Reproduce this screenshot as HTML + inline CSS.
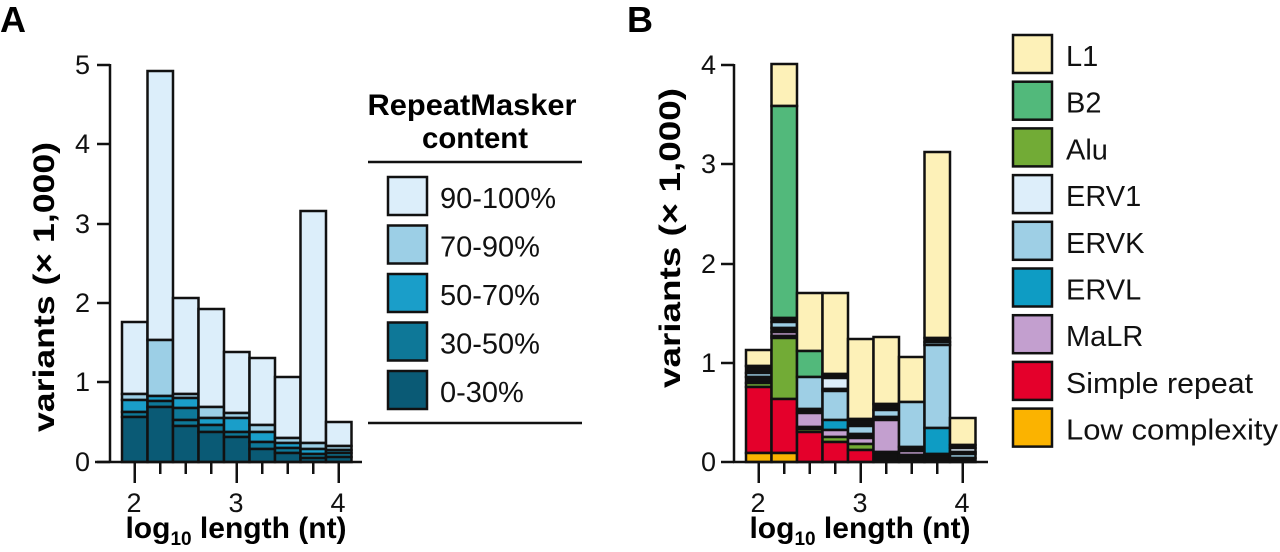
<!DOCTYPE html>
<html><head><meta charset="utf-8"><style>
html,body{margin:0;padding:0;background:#fff;}
svg{display:block;font-family:"Liberation Sans",sans-serif;}
.s rect{stroke:#111;stroke-width:2.5;}
</style></head><body>
<svg width="1280" height="552" viewBox="0 0 1280 552" xmlns="http://www.w3.org/2000/svg">
<text x="0" y="32" font-size="36" font-weight="bold">A</text>
<text x="627" y="32" font-size="36" font-weight="bold">B</text>

<!-- Panel A bars -->
<g class="s">
<rect x="122" y="322" width="25.5" height="72" fill="#dceefa"/><rect x="122" y="394" width="25.5" height="6" fill="#9ccfe6"/><rect x="122" y="400" width="25.5" height="12" fill="#1a9ec9"/><rect x="122" y="412" width="25.5" height="5" fill="#0e7898"/><rect x="122" y="417" width="25.5" height="45" fill="#0a5a75"/>
<rect x="147.5" y="71" width="25.5" height="269" fill="#dceefa"/><rect x="147.5" y="340" width="25.5" height="56" fill="#9ccfe6"/><rect x="147.5" y="396" width="25.5" height="5" fill="#1a9ec9"/><rect x="147.5" y="401" width="25.5" height="6" fill="#0e7898"/><rect x="147.5" y="407" width="25.5" height="55" fill="#0a5a75"/>
<rect x="173" y="298" width="25.5" height="96" fill="#dceefa"/><rect x="173" y="394" width="25.5" height="4" fill="#9ccfe6"/><rect x="173" y="398" width="25.5" height="10" fill="#1a9ec9"/><rect x="173" y="408" width="25.5" height="12" fill="#0e7898"/><rect x="173" y="420" width="25.5" height="6" fill="#0e7898"/><rect x="173" y="426" width="25.5" height="36" fill="#0a5a75"/>
<rect x="198.5" y="309" width="25.5" height="98" fill="#dceefa"/><rect x="198.5" y="407" width="25.5" height="11" fill="#9ccfe6"/><rect x="198.5" y="418" width="25.5" height="7" fill="#1a9ec9"/><rect x="198.5" y="425" width="25.5" height="7" fill="#0e7898"/><rect x="198.5" y="432" width="25.5" height="30" fill="#0a5a75"/>
<rect x="224" y="352" width="25.5" height="61" fill="#dceefa"/><rect x="224" y="413" width="25.5" height="5" fill="#9ccfe6"/><rect x="224" y="418" width="25.5" height="14" fill="#1a9ec9"/><rect x="224" y="432" width="25.5" height="5" fill="#0e7898"/><rect x="224" y="437" width="25.5" height="25" fill="#0a5a75"/>
<rect x="249.5" y="358" width="25.5" height="67" fill="#dceefa"/><rect x="249.5" y="425" width="25.5" height="7" fill="#9ccfe6"/><rect x="249.5" y="432" width="25.5" height="10" fill="#1a9ec9"/><rect x="249.5" y="442" width="25.5" height="7" fill="#0e7898"/><rect x="249.5" y="449" width="25.5" height="13" fill="#0a5a75"/>
<rect x="275" y="377" width="25.5" height="61" fill="#dceefa"/><rect x="275" y="438" width="25.5" height="5" fill="#9ccfe6"/><rect x="275" y="443" width="25.5" height="5" fill="#1a9ec9"/><rect x="275" y="448" width="25.5" height="5" fill="#0e7898"/><rect x="275" y="453" width="25.5" height="9" fill="#0a5a75"/>
<rect x="300.5" y="211" width="25.5" height="232" fill="#dceefa"/><rect x="300.5" y="443" width="25.5" height="6" fill="#9ccfe6"/><rect x="300.5" y="449" width="25.5" height="5" fill="#1a9ec9"/><rect x="300.5" y="454" width="25.5" height="4" fill="#0e7898"/><rect x="300.5" y="458" width="25.5" height="4" fill="#0a5a75"/>
<rect x="326" y="422" width="25.5" height="24" fill="#dceefa"/><rect x="326" y="446" width="25.5" height="4" fill="#9ccfe6"/><rect x="326" y="450" width="25.5" height="3" fill="#1a9ec9"/><rect x="326" y="453" width="25.5" height="4" fill="#0e7898"/><rect x="326" y="457" width="25.5" height="5" fill="#0a5a75"/>
</g>
<!-- Panel A axes -->
<g stroke="#111" stroke-width="2.5">
<line x1="110" y1="64" x2="110" y2="463"/>
<line x1="95" y1="462" x2="362" y2="462"/>
<line x1="97" y1="65" x2="110" y2="65"/><line x1="97" y1="144" x2="110" y2="144"/><line x1="97" y1="224" x2="110" y2="224"/><line x1="97" y1="303" x2="110" y2="303"/><line x1="97" y1="382" x2="110" y2="382"/><line x1="97" y1="462" x2="110" y2="462"/>
<line x1="134.75" y1="462" x2="134.75" y2="483"/><line x1="160.25" y1="462" x2="160.25" y2="474"/><line x1="185.75" y1="462" x2="185.75" y2="474"/><line x1="211.25" y1="462" x2="211.25" y2="474"/><line x1="236.75" y1="462" x2="236.75" y2="483"/><line x1="262.25" y1="462" x2="262.25" y2="474"/><line x1="287.75" y1="462" x2="287.75" y2="474"/><line x1="313.25" y1="462" x2="313.25" y2="474"/><line x1="338.75" y1="462" x2="338.75" y2="483"/>
</g>
<g font-size="27" text-anchor="end" fill="#111">
<text x="90" y="74">5</text><text x="90" y="153">4</text><text x="90" y="233">3</text><text x="90" y="312">2</text><text x="90" y="391">1</text><text x="90" y="471">0</text>
</g>
<g font-size="27" text-anchor="middle" fill="#111">
<text x="134" y="512">2</text><text x="236" y="512">3</text><text x="338" y="512">4</text>
</g>
<text x="236" y="538" font-size="30" font-weight="bold" text-anchor="middle">log<tspan font-size="19" dy="7">10</tspan><tspan dy="-7"> length (nt)</tspan></text>
<text transform="translate(54,287) rotate(-90)" font-size="30" font-weight="bold" text-anchor="middle" textLength="290" lengthAdjust="spacingAndGlyphs">variants (× 1,000)</text>

<!-- Legend A -->
<text x="472" y="115" font-size="30" font-weight="bold" text-anchor="middle" textLength="209" lengthAdjust="spacingAndGlyphs">RepeatMasker</text>
<text x="475" y="148" font-size="30" font-weight="bold" text-anchor="middle" textLength="106" lengthAdjust="spacingAndGlyphs">content</text>
<line x1="368" y1="162" x2="582" y2="162" stroke="#111" stroke-width="2.5"/>
<line x1="368" y1="423" x2="582" y2="423" stroke="#111" stroke-width="2.5"/>
<g class="s">
<rect x="388" y="177" width="39" height="38" fill="#dceefa"/>
<rect x="388" y="225.5" width="39" height="38" fill="#9ccfe6"/>
<rect x="388" y="274" width="39" height="38" fill="#1a9ec9"/>
<rect x="388" y="322.5" width="39" height="38" fill="#0e7898"/>
<rect x="388" y="371" width="39" height="38" fill="#0a5a75"/>
</g>
<g font-size="29" fill="#111">
<text x="440" y="208">90-100%</text><text x="440" y="256.5">70-90%</text><text x="440" y="305">50-70%</text><text x="440" y="353.5">30-50%</text><text x="440" y="402">0-30%</text>
</g>

<!-- Panel B bars -->
<g class="s">
<rect x="746" y="350" width="25.5" height="16" fill="#fdf1b8"/><rect x="746" y="366" width="25.5" height="7" fill="#111"/><rect x="746" y="373" width="25.5" height="4" fill="#9ecfe5"/><rect x="746" y="377" width="25.5" height="6" fill="#111"/><rect x="746" y="383" width="25.5" height="4" fill="#72ab36"/><rect x="746" y="387" width="25.5" height="66" fill="#e4002b"/><rect x="746" y="453" width="25.5" height="9" fill="#fbb300"/>
<rect x="771.5" y="64" width="25.5" height="42" fill="#fdf1b8"/><rect x="771.5" y="106" width="25.5" height="212" fill="#52b97b"/><rect x="771.5" y="318" width="25.5" height="4" fill="#111"/><rect x="771.5" y="322" width="25.5" height="6" fill="#9ecfe5"/><rect x="771.5" y="328" width="25.5" height="4" fill="#111"/><rect x="771.5" y="332" width="25.5" height="4" fill="#c39fcf"/><rect x="771.5" y="336" width="25.5" height="2" fill="#111"/><rect x="771.5" y="338" width="25.5" height="61" fill="#72ab36"/><rect x="771.5" y="399" width="25.5" height="54" fill="#e4002b"/><rect x="771.5" y="453" width="25.5" height="9" fill="#fbb300"/>
<rect x="797" y="293" width="25.5" height="58" fill="#fdf1b8"/><rect x="797" y="351" width="25.5" height="26" fill="#52b97b"/><rect x="797" y="377" width="25.5" height="32" fill="#9ecfe5"/><rect x="797" y="409" width="25.5" height="4" fill="#111"/><rect x="797" y="413" width="25.5" height="14" fill="#c39fcf"/><rect x="797" y="427" width="25.5" height="2" fill="#111"/><rect x="797" y="429" width="25.5" height="3" fill="#72ab36"/><rect x="797" y="432" width="25.5" height="30" fill="#e4002b"/>
<rect x="822.5" y="293" width="25.5" height="81" fill="#fdf1b8"/><rect x="822.5" y="374" width="25.5" height="4" fill="#111"/><rect x="822.5" y="378" width="25.5" height="11" fill="#ddeefa"/><rect x="822.5" y="389" width="25.5" height="2" fill="#111"/><rect x="822.5" y="391" width="25.5" height="29" fill="#9ecfe5"/><rect x="822.5" y="420" width="25.5" height="10" fill="#0e9cc4"/><rect x="822.5" y="430" width="25.5" height="7" fill="#c39fcf"/><rect x="822.5" y="437" width="25.5" height="5" fill="#72ab36"/><rect x="822.5" y="442" width="25.5" height="20" fill="#e4002b"/>
<rect x="848" y="339" width="25.5" height="80" fill="#fdf1b8"/><rect x="848" y="419" width="25.5" height="7" fill="#111"/><rect x="848" y="426" width="25.5" height="8" fill="#9ecfe5"/><rect x="848" y="434" width="25.5" height="4" fill="#111"/><rect x="848" y="438" width="25.5" height="6" fill="#c39fcf"/><rect x="848" y="444" width="25.5" height="6" fill="#72ab36"/><rect x="848" y="450" width="25.5" height="12" fill="#e4002b"/>
<rect x="873.5" y="337" width="25.5" height="67" fill="#fdf1b8"/><rect x="873.5" y="404" width="25.5" height="6" fill="#111"/><rect x="873.5" y="410" width="25.5" height="7" fill="#9ecfe5"/><rect x="873.5" y="417" width="25.5" height="3" fill="#111"/><rect x="873.5" y="420" width="25.5" height="32" fill="#c39fcf"/><rect x="873.5" y="452" width="25.5" height="10" fill="#111"/>
<rect x="899" y="357" width="25.5" height="45" fill="#fdf1b8"/><rect x="899" y="402" width="25.5" height="45" fill="#9ecfe5"/><rect x="899" y="447" width="25.5" height="4" fill="#111"/><rect x="899" y="451" width="25.5" height="4" fill="#c39fcf"/><rect x="899" y="455" width="25.5" height="7" fill="#111"/>
<rect x="924.5" y="152" width="25.5" height="186" fill="#fdf1b8"/><rect x="924.5" y="338" width="25.5" height="4" fill="#111"/><rect x="924.5" y="342" width="25.5" height="3" fill="#9ecfe5"/><rect x="924.5" y="345" width="25.5" height="83" fill="#9ecfe5"/><rect x="924.5" y="428" width="25.5" height="26" fill="#0e9cc4"/><rect x="924.5" y="454" width="25.5" height="8" fill="#111"/>
<rect x="950" y="418" width="25.5" height="27" fill="#fdf1b8"/><rect x="950" y="445" width="25.5" height="3" fill="#111"/><rect x="950" y="448" width="25.5" height="4" fill="#ddeefa"/><rect x="950" y="452" width="25.5" height="2" fill="#111"/><rect x="950" y="454" width="25.5" height="4" fill="#9ecfe5"/><rect x="950" y="458" width="25.5" height="4" fill="#111"/>
</g>
<!-- Panel B axes -->
<g stroke="#111" stroke-width="2.5">
<line x1="734" y1="64" x2="734" y2="463"/>
<line x1="733" y1="462" x2="988" y2="462"/>
<line x1="721" y1="65" x2="734" y2="65"/><line x1="721" y1="164" x2="734" y2="164"/><line x1="721" y1="264" x2="734" y2="264"/><line x1="721" y1="363" x2="734" y2="363"/><line x1="721" y1="462" x2="734" y2="462"/>
<line x1="758.75" y1="462" x2="758.75" y2="483"/><line x1="784.25" y1="462" x2="784.25" y2="474"/><line x1="809.75" y1="462" x2="809.75" y2="474"/><line x1="835.25" y1="462" x2="835.25" y2="474"/><line x1="860.75" y1="462" x2="860.75" y2="483"/><line x1="886.25" y1="462" x2="886.25" y2="474"/><line x1="911.75" y1="462" x2="911.75" y2="474"/><line x1="937.25" y1="462" x2="937.25" y2="474"/><line x1="962.75" y1="462" x2="962.75" y2="483"/>
</g>
<g font-size="27" text-anchor="end" fill="#111">
<text x="716" y="74">4</text><text x="716" y="173">3</text><text x="716" y="273">2</text><text x="716" y="372">1</text><text x="716" y="471">0</text>
</g>
<g font-size="27" text-anchor="middle" fill="#111">
<text x="758" y="512">2</text><text x="860" y="512">3</text><text x="962" y="512">4</text>
</g>
<text x="860" y="538" font-size="30" font-weight="bold" text-anchor="middle">log<tspan font-size="19" dy="7">10</tspan><tspan dy="-7"> length (nt)</tspan></text>
<text transform="translate(680,238) rotate(-90)" font-size="30" font-weight="bold" text-anchor="middle" textLength="300" lengthAdjust="spacingAndGlyphs">variants (× 1,000)</text>

<!-- Legend B -->
<g class="s">
<rect x="1013" y="35" width="39" height="38" fill="#fdf1b8"/>
<rect x="1013" y="81.7" width="39" height="38" fill="#52b97b"/>
<rect x="1013" y="128.4" width="39" height="38" fill="#72ab36"/>
<rect x="1013" y="175.1" width="39" height="38" fill="#ddeefa"/>
<rect x="1013" y="221.8" width="39" height="38" fill="#9ecfe5"/>
<rect x="1013" y="268.5" width="39" height="38" fill="#0e9cc4"/>
<rect x="1013" y="315.2" width="39" height="38" fill="#c39fcf"/>
<rect x="1013" y="361.9" width="39" height="38" fill="#e4002b"/>
<rect x="1013" y="408.6" width="39" height="38" fill="#fbb300"/>
</g>
<g font-size="29" fill="#111">
<text x="1066" y="66">L1</text><text x="1066" y="112.7">B2</text><text x="1066" y="159.4">Alu</text><text x="1066" y="206.1">ERV1</text><text x="1066" y="252.8">ERVK</text><text x="1066" y="299.5">ERVL</text><text x="1066" y="346.2">MaLR</text><text x="1066" y="392.9" textLength="187" lengthAdjust="spacingAndGlyphs">Simple repeat</text><text x="1066" y="439.6" textLength="212" lengthAdjust="spacingAndGlyphs">Low complexity</text>
</g>
</svg>
</body></html>
